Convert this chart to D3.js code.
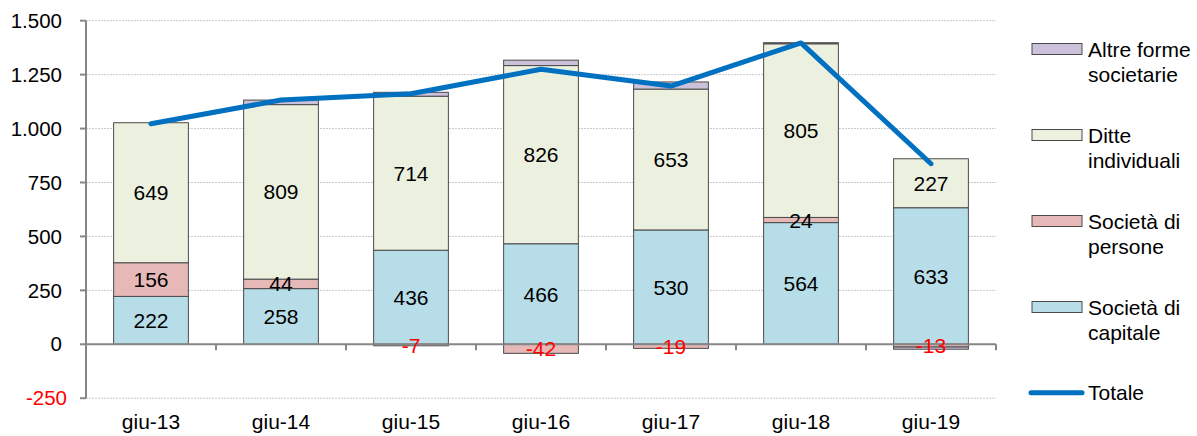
<!DOCTYPE html>
<html>
<head>
<meta charset="utf-8">
<script src="https://cdn.jsdelivr.net/npm/d3@7"></script>
<style>
  body { margin: 0; background: #fff; }
  text { font-family: "Liberation Sans", Arial, sans-serif; }
</style>
</head>
<body>
<svg id="chart" width="1197" height="436"></svg>
<script>
const categories = ["giu-13", "giu-14", "giu-15", "giu-16", "giu-17", "giu-18", "giu-19"];
const capitale = [222, 258, 436, 466, 530, 564, 633];
const persone = [156, 44, -7, -42, -19, 24, -13];
const ditte = [649, 809, 714, 826, 653, 805, 227];
const altre = [0, 21, 18, 25, 33, 5, -10];
const totale = [1022, 1132, 1161, 1275, 1197, 1397, 837];
const yTicks = [-250, 0, 250, 500, 750, 1000, 1250, 1500];

const seriesNames = ["Società di capitale", "Società di persone", "Ditte individuali", "Altre forme societarie"];
const seriesValues = [capitale, persone, ditte, altre];
const seriesColors = ["#b7dde8", "#e6b9b8", "#ebf1de", "#ccc1da"];
const showLabel = [true, true, true, false];

const svg = d3.select("#chart");
const left = 86, right = 996;

const x = d3.scaleBand().domain(categories).range([left, right])
  .paddingInner(0.425).paddingOuter(0.2125);
const step = x.step();
const y = d3.scaleLinear().domain([-250, 1500]).range([398.2, 20.7]);

// gridlines
svg.append("g")
  .selectAll("line")
  .data(yTicks)
  .enter().append("line")
  .attr("x1", left).attr("x2", right)
  .attr("y1", d => y(d)).attr("y2", d => y(d))
  .attr("stroke", "#c8c8c8")
  .attr("stroke-width", 1)
  .attr("stroke-dasharray", "2,1");

// stacked segments (positive up, negative down)
const segs = [];
categories.forEach((c, i) => {
  let pos = 0, neg = 0;
  seriesValues.forEach((vals, s) => {
    const v = vals[i];
    if (v === 0) return;
    let y0, y1;
    if (v > 0) { y0 = pos; y1 = pos + v; pos = y1; }
    else { y0 = neg; y1 = neg + v; neg = y1; }
    segs.push({ cat: c, s, v, y0, y1 });
  });
});

svg.append("g")
  .selectAll("rect")
  .data(segs)
  .enter().append("rect")
  .attr("x", d => x(d.cat))
  .attr("width", x.bandwidth())
  .attr("y", d => y(Math.max(d.y0, d.y1)))
  .attr("height", d => Math.abs(y(d.y0) - y(d.y1)))
  .attr("fill", d => seriesColors[d.s])
  .attr("stroke", "#4a4a4a")
  .attr("stroke-width", 1);

// axes
svg.append("line")
  .attr("x1", left).attr("x2", left)
  .attr("y1", y(1500)).attr("y2", y(-250))
  .attr("stroke", "#868686").attr("stroke-width", 2);
svg.append("line")
  .attr("x1", left).attr("x2", right)
  .attr("y1", y(0)).attr("y2", y(0))
  .attr("stroke", "#868686").attr("stroke-width", 2);

svg.append("g")
  .selectAll("line")
  .data(yTicks)
  .enter().append("line")
  .attr("x1", left - 6).attr("x2", left)
  .attr("y1", d => y(d)).attr("y2", d => y(d))
  .attr("stroke", "#868686").attr("stroke-width", 2);

// category boundary ticks below the zero line
svg.append("g")
  .selectAll("line")
  .data(categories)
  .enter().append("line")
  .attr("x1", d => x(d) - (step - x.bandwidth()) / 2 + step)
  .attr("x2", d => x(d) - (step - x.bandwidth()) / 2 + step)
  .attr("y1", y(0)).attr("y2", y(0) + 6)
  .attr("stroke", "#868686").attr("stroke-width", 2);

const fmt = d3.formatLocale({ decimal: ",", thousands: ".", grouping: [3], currency: ["", ""] }).format(",d");

svg.append("g")
  .selectAll("text")
  .data(yTicks)
  .enter().append("text")
  .attr("x", d => d < 0 ? 67 : 62)
  .attr("y", d => y(d))
  .attr("dy", "0.35em")
  .attr("text-anchor", "end")
  .attr("font-size", "20.5px")
  .attr("fill", d => d < 0 ? "#ff0000" : "#000")
  .text(d => d < 0 ? "-" + fmt(-d) : fmt(d));

svg.append("g")
  .selectAll("text")
  .data(categories)
  .enter().append("text")
  .attr("x", d => x(d) + x.bandwidth() / 2)
  .attr("y", 429)
  .attr("text-anchor", "middle")
  .attr("font-size", "21px")
  .text(d => d);

// totale line
svg.append("path")
  .datum(totale)
  .attr("fill", "none")
  .attr("stroke", "#0070c0")
  .attr("stroke-width", 5)
  .attr("stroke-linejoin", "round")
  .attr("stroke-linecap", "round")
  .attr("d", d3.line()
    .x((d, i) => x(categories[i]) + x.bandwidth() / 2)
    .y(d => y(d)));

// data labels
svg.append("g")
  .selectAll("text")
  .data(segs.filter(d => showLabel[d.s]))
  .enter().append("text")
  .attr("x", d => x(d.cat) + x.bandwidth() / 2)
  .attr("y", d => y((d.y0 + d.y1) / 2))
  .attr("dy", "0.36em")
  .attr("text-anchor", "middle")
  .attr("font-size", "21px")
  .attr("fill", d => d.v < 0 ? "#ff0000" : "#000")
  .text(d => d.v);

// legend
const legendItems = [
  { lines: ["Altre forme", "societarie"], color: seriesColors[3], cy: 49 },
  { lines: ["Ditte", "individuali"], color: seriesColors[2], cy: 135 },
  { lines: ["Società di", "persone"], color: seriesColors[1], cy: 221 },
  { lines: ["Società di", "capitale"], color: seriesColors[0], cy: 307 }
];
const lg = svg.append("g");
legendItems.forEach(it => {
  lg.append("rect")
    .attr("x", 1032).attr("y", it.cy - 5.5)
    .attr("width", 50).attr("height", 11)
    .attr("fill", it.color)
    .attr("stroke", "#4a4a4a").attr("stroke-width", 1);
  it.lines.forEach((t, j) => {
    lg.append("text")
      .attr("x", 1088).attr("y", it.cy + 8 + j * 24.5)
      .attr("font-size", "21px")
      .text(t);
  });
});
lg.append("line")
  .attr("x1", 1031).attr("x2", 1082)
  .attr("y1", 392.7).attr("y2", 392.7)
  .attr("stroke", "#0070c0").attr("stroke-width", 5)
  .attr("stroke-linecap", "round");
lg.append("text")
  .attr("x", 1088).attr("y", 400)
  .attr("font-size", "21px")
  .text("Totale");
</script>
</body>
</html>
